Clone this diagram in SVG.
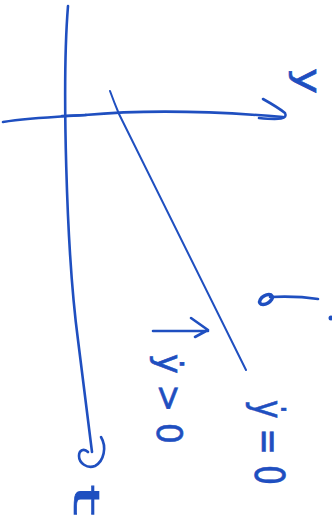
<svg xmlns="http://www.w3.org/2000/svg" width="332" height="529" viewBox="0 0 332 529">
<style>
.ink{fill:none;stroke:#1f4fc0;stroke-linecap:round;stroke-linejoin:round}
.ax{stroke-width:2.6}
.ln{stroke-width:2}
.lbl{fill:#1f4fc0;font-family:"DejaVu Sans","Liberation Sans",sans-serif;stroke:#1f4fc0;stroke-width:0.6}
</style>
<rect width="332" height="529" fill="#ffffff"/>
<g id="axes">
  <path class="ink ax" d="M3,122 C30,118 55,117 85,115 C140,110 200,110 283,117"/>
  <path class="ink ax" d="M62,116 L86,115"/>
  <path class="ink ax" d="M263,99 C272,104 280,109 285,113 C288,119 280,120 259,118"/>
  <path class="ink ax" d="M68,6 C62,80 66,250 78,340 C84,390 88,420 92,452"/>
  <path class="ink ax" d="M101,437 C107,447 104,461 95,466 C87,469 79,463 79,456 C79,450 84,448 88,452"/>
</g>
<g id="nullcline">
  <path class="ink ln" d="M110,91 Q114,102 119,114 L246,370"/>
</g>
<g id="arrows">
  <path class="ink ax" d="M153,331 L208,331 M191,318 L208,330 L195,337"/>
  <path class="ink ax" d="M270,297 C290,296 305,297 318,299"/>
  <ellipse class="ink" cx="266" cy="299.5" rx="7" ry="4" transform="rotate(-30 266 299.5)" stroke-width="3.5"/>
  <circle cx="331" cy="318" r="2.5" fill="#1f4fc0"/>
</g>
<g id="labels">
  <text class="lbl" font-size="35" transform="translate(296,68) rotate(90)" textLength="26" lengthAdjust="spacingAndGlyphs">y</text>
  <text class="lbl" font-size="36" transform="translate(74,484) rotate(90)" textLength="32" lengthAdjust="spacingAndGlyphs">t</text>
  <text class="lbl" font-size="36" transform="translate(157,354) rotate(90)" textLength="90" lengthAdjust="spacingAndGlyphs">ẏ &gt; 0</text>
  <text class="lbl" font-size="40" transform="translate(255,400) rotate(90)" textLength="85" lengthAdjust="spacingAndGlyphs">ẏ = 0</text>
</g>
</svg>
